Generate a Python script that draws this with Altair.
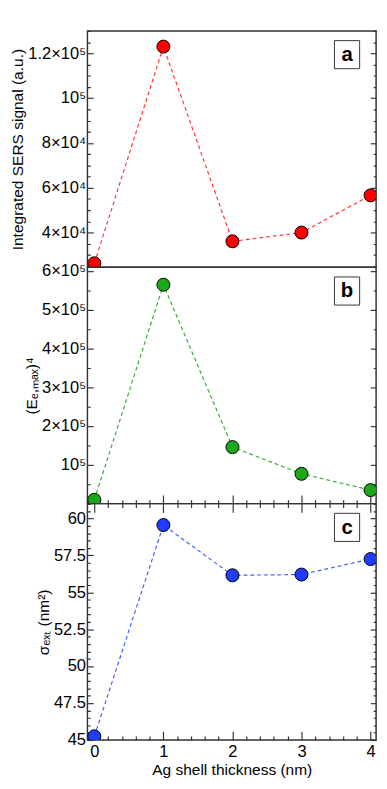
import json
import math
import altair as alt
import pandas as pd

# ---------------- data ----------------
thickness = [0, 1, 2, 3, 4]
sers_signal = [26300, 123000, 36100, 40000, 56600]
e_field4 = [10000, 565000, 146000, 77000, 35000]
sigma_ext = [45.25, 59.55, 56.15, 56.2, 57.25]

panel_letters = ["a", "b", "c"]
y_titles = ["Integrated SERS signal (a.u.)", "(Eₑ,ₘₐₓ)⁴", "σₑₓₜ (nm²)"]
x_title = "Ag shell thickness (nm)"

x_major = [0, 1, 2, 3, 4]
x_labels = ["0", "1", "2", "3", "4"]
x_minor_step = 0.2
x_domain = [-0.1, 4.08]

a_major = [40000, 60000, 80000, 100000, 120000]
a_labels = ["4×10⁴", "6×10⁴", "8×10⁴", "10⁵", "1.2×10⁵"]
a_minor_step = 5000
a_domain = [24500, 130000]

b_major = [100000, 200000, 300000, 400000, 500000, 600000]
b_labels = ["10⁵", "2×10⁵", "3×10⁵", "4×10⁵", "5×10⁵", "6×10⁵"]
b_minor_step = 50000
b_domain = [0, 610000]

c_major = [45, 47.5, 50, 52.5, 55, 57.5, 60]
c_labels = ["45", "47.5", "50", "52.5", "55", "57.5", "60"]
c_minor_step = 0.5
c_domain = [45, 61]

point_colors = ["#ff0000", "#18a818", "#1f3dff"]
line_colors = ["#ff3535", "#38a838", "#3f5fff"]

# ---------------- style ----------------
W, H = 298, 244
FONT = "Liberation Sans"
TICK_COLOR = "#333333"
Y_TICK, Y_MINOR = 6, 3
X_TICK, X_MINOR = 9, 4
LABEL_SIZE = 17


def tick_values(domain, step):
    n0 = math.ceil(domain[0] / step - 1e-9)
    n1 = math.floor(domain[1] / step + 1e-9)
    return [round(i * step, 6) for i in range(n0, n1 + 1)]


def minor_test(major):
    return f"indexof({json.dumps(major)}, datum.value) < 0"


def label_expr(major, labels):
    m = json.dumps(major)
    l = json.dumps(labels, ensure_ascii=False)
    return f"indexof({m}, datum.value) >= 0 ? {l}[indexof({m}, datum.value)] : ''"


def make_axis(orient, major, labels, step, domain, big, small, title=None,
              show_labels=True, label_padding=2, title_padding=2):
    kw = dict(
        orient=orient,
        values=tick_values(domain, step),
        offset=-big,
        tickSize=big,
        tickColor=TICK_COLOR,
        tickWidth=1.2,
        tickDash={"condition": {"test": minor_test(major),
                                "value": [0, big - small, small, 0]},
                  "value": [big, 0]},
        domain=False,
        grid=False,
        labels=show_labels,
        labelOverlap=False,
        labelFlush=False,
        labelBound=False,
        labelFont=FONT,
        labelFontSize=LABEL_SIZE,
        labelColor="black",
        labelPadding=label_padding,
    )
    if show_labels:
        kw["labelExpr"] = label_expr(major, labels)
    if title is not None:
        kw.update(title=title, titleFont=FONT, titleFontSize=16,
                  titleFontWeight="normal", titleColor="black",
                  titlePadding=title_padding)
    else:
        kw["title"] = None
    return alt.Axis(**kw)


def panel(i, values, major, labels, step, domain, x_bottom=None, x_top=None):
    df = pd.DataFrame({"t": thickness, "v": values})
    xs = alt.Scale(domain=x_domain, nice=False, zero=False)
    ys = alt.Scale(domain=domain, nice=False, zero=False)
    left = make_axis("left", major, labels, step, domain, Y_TICK, Y_MINOR,
                     title=y_titles[i])
    right = make_axis("right", major, labels, step, domain, Y_TICK, Y_MINOR,
                      show_labels=False)
    line = alt.Chart(df).mark_line(
        color=line_colors[i], strokeDash=[4, 3], strokeWidth=1.2, clip=True
    ).encode(
        x=alt.X("t:Q", scale=xs, axis=x_bottom),
        y=alt.Y("v:Q", scale=ys, axis=left),
    )
    pts = alt.Chart(df).mark_circle(
        size=180, color=point_colors[i], opacity=1, stroke="black",
        strokeWidth=1, clip=True
    ).encode(
        x=alt.X("t:Q", scale=xs, axis=x_top),
        y=alt.Y("v:Q", scale=ys, axis=right),
    )
    lab_df = pd.DataFrame({"letter": [panel_letters[i]]})
    box = alt.Chart(lab_df).mark_rect(
        fill="white", stroke="#333333", strokeWidth=1
    ).encode(
        x=alt.value(W - 43), x2=alt.value(W - 17),
        y=alt.value(10), y2=alt.value(39),
    )
    txt = alt.Chart(lab_df).mark_text(
        font=FONT, fontSize=21, fontWeight="bold", color="black",
        align="center", baseline="middle"
    ).encode(
        x=alt.value(W - 30), y=alt.value(25), text="letter:N"
    )
    return alt.layer(line, pts, box, txt).resolve_axis(
        x="independent", y="independent"
    ).properties(width=W, height=H)


x_ticks_only_bottom = make_axis("bottom", x_major, x_labels, x_minor_step, x_domain,
                                X_TICK, X_MINOR, show_labels=False)
x_ticks_only_top = make_axis("top", x_major, x_labels, x_minor_step, x_domain,
                             X_TICK, X_MINOR, show_labels=False)
x_main = make_axis("bottom", x_major, x_labels, x_minor_step, x_domain,
                   X_TICK, X_MINOR, title=x_title, label_padding=4,
                   title_padding=3)

pa = panel(0, sers_signal, a_major, a_labels, a_minor_step, a_domain,
           x_bottom=None, x_top=None)
pb = panel(1, e_field4, b_major, b_labels, b_minor_step, b_domain,
           x_bottom=x_ticks_only_bottom, x_top=None)
pc = panel(2, sigma_ext, c_major, c_labels, c_minor_step, c_domain,
           x_bottom=x_main, x_top=x_ticks_only_top)

chart = alt.vconcat(pa, pb, pc, spacing=0, bounds="flush").properties(
    padding={"left": 1, "top": 1, "right": 1, "bottom": 1}
).configure_view(
    stroke="#333333", strokeWidth=1.5
)

chart.save("out.html", embed_options={"renderer": "svg", "actions": False})
